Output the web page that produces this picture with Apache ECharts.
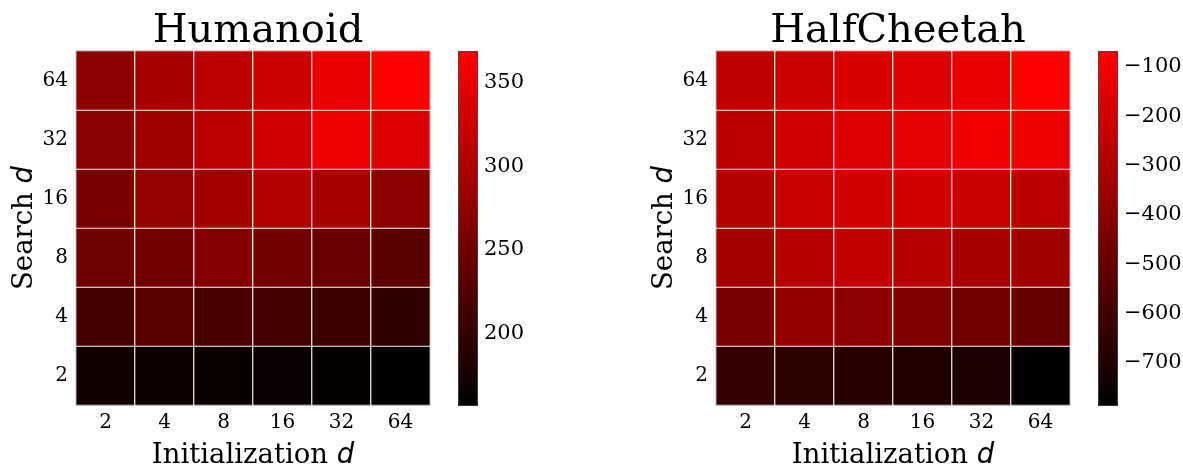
<!DOCTYPE html>
<html>
<head>
<meta charset="utf-8">
<script src="https://cdn.jsdelivr.net/npm/echarts@6/dist/echarts.min.js"></script>
<style>
  html, body { margin: 0; padding: 0; background: #fff; }
  #chart { width: 1183px; height: 466px; }
</style>
</head>
<body>
<div id="chart"></div>
<script>
// d values along both axes (y listed bottom to top)
const initD = ['2', '4', '8', '16', '32', '64']
const searchD = ['2', '4', '8', '16', '32', '64']

// rows: search d = 2, 4, 8, 16, 32, 64 ; columns: init d = 2 ... 64
const humanoid = [
  [172, 169, 165, 164, 160, 157],
  [214, 230, 219, 212, 207, 197],
  [250, 253, 265, 253, 246, 232],
  [258, 281, 293, 305, 295, 272],
  [270, 290, 312, 330, 357, 340],
  [273, 297, 313, 327, 350, 369]
]
const halfCheetah = [
  [-639, -661, -673, -695, -706, -785],
  [-448, -375, -386, -431, -464, -504],
  [-324, -268, -234, -268, -313, -335],
  [-279, -228, -195, -189, -223, -262],
  [-256, -200, -166, -144, -105, -121],
  [-245, -211, -172, -164, -127, -68]
]

const humanoidRange = [157, 369]
const cheetahRange = [-785, -68]
const humanoidTicks = [200, 250, 300, 350]
const cheetahTicks = [-700, -600, -500, -400, -300, -200, -100]

const serif = 'DejaVu Serif'
const chart = echarts.init(document.getElementById('chart'))

function toCells(rows) {
  const out = []
  rows.forEach((row, yi) => row.forEach((v, xi) => out.push([xi, yi, v])))
  return out
}

const nameStyle = {
  fontFamily: serif, fontSize: 27.5, color: '#000',
  rich: { i: { fontFamily: 'DejaVu Sans', fontStyle: 'italic', fontSize: 27.5, color: '#000' } }
}

function heatX(gridIndex) {
  return {
    type: 'category', gridIndex, data: initD,
    name: 'Initialization {i|d}', nameLocation: 'middle', nameGap: 37,
    nameTextStyle: nameStyle,
    axisLine: { lineStyle: { color: '#333', width: 1 } },
    axisTick: { alignWithLabel: true, length: 4, lineStyle: { color: '#333' } },
    axisLabel: { fontFamily: serif, fontSize: 20, color: '#000', margin: 8 },
    splitLine: { show: false }
  }
}

function heatY(gridIndex) {
  return {
    type: 'category', gridIndex, data: searchD,
    name: 'Search {i|d}', nameLocation: 'middle', nameGap: 37,
    nameTextStyle: nameStyle,
    axisLine: { lineStyle: { color: '#333', width: 1 } },
    axisTick: { alignWithLabel: true, length: 4, lineStyle: { color: '#333' } },
    axisLabel: { fontFamily: serif, fontSize: 20, color: '#000', margin: 8 },
    splitLine: { show: false }
  }
}

function barX(gridIndex) {
  return { type: 'value', gridIndex, show: false, min: 0, max: 1 }
}

function barY(gridIndex, range, ticks) {
  return {
    type: 'value', gridIndex, position: 'right',
    min: range[0], max: range[1],
    axisLine: { show: false },
    axisTick: { show: true, length: 4, customValues: ticks, lineStyle: { color: '#000' } },
    axisLabel: {
      fontFamily: serif, fontSize: 21, color: '#000', margin: 7,
      customValues: ticks,
      formatter: v => (v < 0 ? '\u2212' + Math.abs(v) : String(v))
    },
    splitLine: { show: false }
  }
}

function colorBar(seriesIndex, range, left) {
  return {
    type: 'continuous', seriesIndex, min: range[0], max: range[1],
    orient: 'vertical', left, top: 51, itemWidth: 19, itemHeight: 354,
    padding: 0, calculable: false, text: ['', ''], showLabel: false,
    borderColor: '#222', borderWidth: 1,
    inRange: { color: ['#000000', '#ff0000'] }
  }
}

function heatSeries(idx, rows) {
  return {
    type: 'heatmap', xAxisIndex: idx, yAxisIndex: idx,
    data: toCells(rows),
    itemStyle: { borderColor: 'rgba(255,255,255,0.9)', borderWidth: 1.2 },
    emphasis: { disabled: true }
  }
}

const gridBase = { top: 51, height: 354, outerBoundsMode: 'none', containLabel: false }

chart.setOption({
  animation: false,
  title: [
    { text: 'Humanoid', left: 253, top: 7, textAlign: 'center',
      textStyle: { fontFamily: serif, fontSize: 40, fontWeight: 'normal', color: '#000' } },
    { text: 'HalfCheetah', left: 893, top: 7, textAlign: 'center',
      textStyle: { fontFamily: serif, fontSize: 40, fontWeight: 'normal', color: '#000' } }
  ],
  grid: [
    Object.assign({ left: 76, width: 354, show: true, borderColor: '#333', borderWidth: 1, backgroundColor: 'transparent' }, gridBase),
    Object.assign({ left: 716, width: 354, show: true, borderColor: '#333', borderWidth: 1, backgroundColor: 'transparent' }, gridBase),
    Object.assign({ left: 458, width: 19 }, gridBase),
    Object.assign({ left: 1098, width: 19 }, gridBase)
  ],
  xAxis: [heatX(0), heatX(1), barX(2), barX(3)],
  yAxis: [heatY(0), heatY(1), barY(2, humanoidRange, humanoidTicks), barY(3, cheetahRange, cheetahTicks)],
  visualMap: [colorBar(0, humanoidRange, 458), colorBar(1, cheetahRange, 1098)],
  series: [heatSeries(0, humanoid), heatSeries(1, halfCheetah)]
})
</script>
</body>
</html>
